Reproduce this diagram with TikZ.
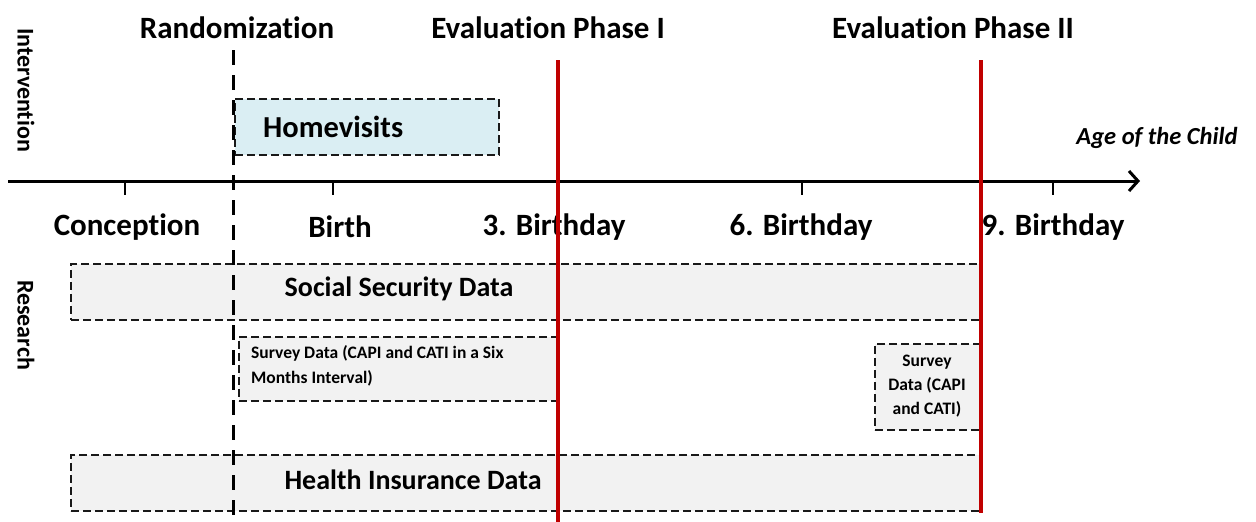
\documentclass[tikz,border=0pt]{standalone}
\usepackage{fontspec}
\setmainfont{Carlito}[Ligatures=NoCommon]
\usetikzlibrary{arrows.meta}
\definecolor{evalred}{HTML}{C00000}
\definecolor{homeblue}{HTML}{DAEEF3}
\definecolor{datagray}{HTML}{F2F2F2}
\begin{document}
\begin{tikzpicture}[x=1pt,y=-1pt,
  phase/.style={font=\bfseries\fontsize{31}{34}\selectfont, inner sep=0pt},
  agelabel/.style={font=\bfseries\fontsize{31}{34}\selectfont, inner sep=0pt},
  rowlabel/.style={font=\bfseries\fontsize{24}{28}\selectfont, inner sep=0pt, rotate=-90},
  boxtext/.style={font=\bfseries\fontsize{28}{32}\selectfont, inner sep=0pt},
  smalltext/.style={font=\bfseries\fontsize{17.5}{25}\selectfont, inner sep=0pt, align=left},
  databox/.style={draw=black!90, fill=datagray, line width=2pt,
    dash pattern=on 8pt off 4pt, inner sep=0pt, anchor=north west},
  randline/.style={line width=3pt, dash pattern=on 15pt off 10pt},
  evalline/.style={draw=evalred, line width=4pt},
  axisline/.style={line width=3pt, -{Straight Barb[length=9pt,width=20pt]}},
  tickmark/.style={line width=2pt}
]
\useasboundingbox (0,0) rectangle (1256,522);

% data sources and intervention boxes
\node[databox, fill=homeblue, minimum width=264pt, minimum height=56pt] (home) at (234,98) {};
\node[databox, minimum width=911pt, minimum height=56pt] (ssd) at (70,263) {};
\node[databox, minimum width=320pt, minimum height=64pt] (surv1) at (238,336) {};
\node[databox, minimum width=106pt, minimum height=86pt] (surv2) at (874,343) {};
\node[databox, minimum width=910pt, minimum height=56pt] (hid) at (70,454) {};

\node[boxtext, font=\bfseries\fontsize{30.5}{34}\selectfont, anchor=west] (homet) at (263,127) {Homevisits};
\node[boxtext] (ssdt) at (399,289) {Social Security Data};
\node[boxtext] (hidt) at (413,480) {Health Insurance Data};
\node[smalltext, anchor=north west] (surv1t) at (251,345) {Survey Data (CAPI and CATI in a Six\\Months Interval)};
\node[smalltext, align=center, font=\bfseries\fontsize{17.5}{24}\selectfont] (surv2t) at (927,386) {Survey\\Data (CAPI\\and CATI)};

% row labels
\node[rowlabel] (intv) at (26,90) {Intervention};
\node[rowlabel] (res) at (26,325) {Research};

% time axis
\coordinate (ax-start) at (8,181);
\coordinate (ax-end) at (1140,181);
\draw[axisline] (ax-start) -- (ax-end);
\node[font=\bfseries\itshape\fontsize{24.5}{28}\selectfont, inner sep=0pt] (age) at (1157,138) {Age of the Child};

\foreach \n/\x in {conc/125, birth/333, six/802, nine/1053} {
  \coordinate (t-\n) at (\x,181);
  \coordinate (b-\n) at (\x,195);
  \draw[tickmark] (t-\n) -- (b-\n);
}

\node[agelabel] (l-conc) at (127,227) {Conception};
\node[agelabel] (l-birth) at (340,227) {Birth};
\node[agelabel] (l-three) at (554,227) {3. Birthday};
\node[agelabel] (l-six) at (801,227) {6. Birthday};
\node[agelabel] (l-nine) at (1053,227) {9. Birthday};

% randomization and evaluation markers
\node[phase] (rand) at (237,28) {Randomization};
\node[phase] (ev1) at (548,28) {Evaluation Phase I};
\node[phase] (ev2) at (953,28) {Evaluation Phase II};

\coordinate (rand-top) at (233,50);
\coordinate (rand-bot) at (233,522);
\draw[randline] (rand-top) -- (rand-bot);

\coordinate (ev1-top) at (558,60);
\coordinate (ev1-bot) at (558,522);
\draw[evalline] (ev1-top) -- (ev1-bot);

\coordinate (ev2-top) at (981,60);
\coordinate (ev2-bot) at (981,513);
\draw[evalline] (ev2-top) -- (ev2-bot);
\end{tikzpicture}
\end{document}
